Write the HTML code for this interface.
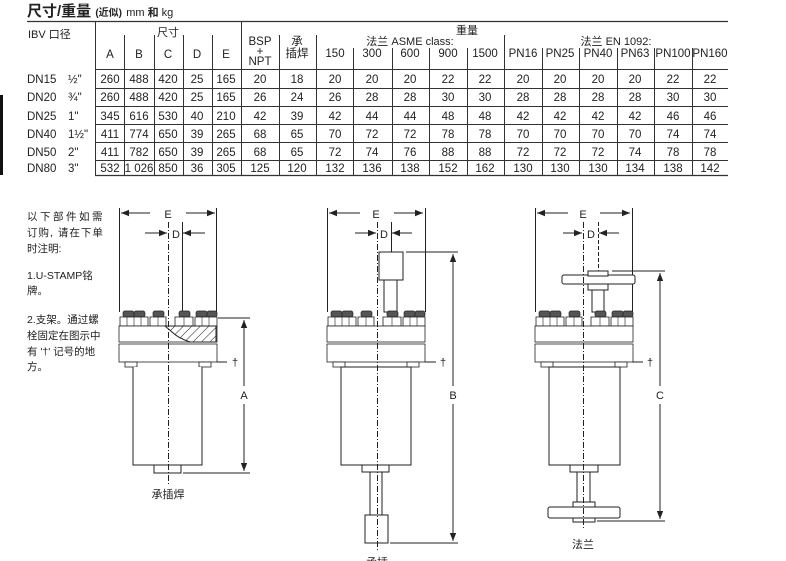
<!DOCTYPE html>
<html><head><meta charset="utf-8"><style>
html,body{margin:0;padding:0;background:#fff;}
svg{display:block;}
text{font-family:"Liberation Sans","Noto Sans CJK SC",sans-serif;fill:#222;}
.t{font-size:11px;text-anchor:middle;}
.n{font-size:11px;}
.d{font-size:11.5px;text-anchor:middle;}
</style></head><body>
<svg width="786" height="561" viewBox="0 0 786 561" xmlns="http://www.w3.org/2000/svg">
<text x="27" y="16" style="font-size:15px;font-weight:bold">尺寸/重量 <tspan style="font-size:10px">(近似)</tspan> <tspan style="font-size:11px;font-weight:normal">mm </tspan><tspan style="font-size:11px">和</tspan><tspan style="font-size:11px;font-weight:normal"> kg</tspan></text>
<rect x="0" y="95" width="3" height="80" fill="#111"/>
<g stroke="#333" stroke-width="1" fill="none">
<line x1="27" y1="21.5" x2="728" y2="21.5" stroke-width="1.2"/>
<line x1="95" y1="69.5" x2="728" y2="69.5"/>
<line x1="95" y1="88.5" x2="728" y2="88.5"/>
<line x1="95" y1="106.5" x2="728" y2="106.5"/>
<line x1="95" y1="124.5" x2="728" y2="124.5"/>
<line x1="95" y1="142.5" x2="728" y2="142.5"/>
<line x1="95" y1="160.5" x2="728" y2="160.5"/>
<line x1="95" y1="175.5" x2="728" y2="175.5" stroke-width="1.2"/>
<line x1="95.5" y1="21" x2="95.5" y2="175"/>
<line x1="241.5" y1="21" x2="241.5" y2="175"/>
<line x1="124.5" y1="35" x2="124.5" y2="175"/>
<line x1="154.5" y1="35" x2="154.5" y2="175"/>
<line x1="183.5" y1="35" x2="183.5" y2="175"/>
<line x1="212.5" y1="35" x2="212.5" y2="175"/>
<line x1="279.5" y1="35" x2="279.5" y2="175"/>
<line x1="316.5" y1="35" x2="316.5" y2="175"/>
<line x1="504.5" y1="35" x2="504.5" y2="175"/>
<line x1="353.5" y1="48" x2="353.5" y2="175"/>
<line x1="392.5" y1="48" x2="392.5" y2="175"/>
<line x1="429.5" y1="48" x2="429.5" y2="175"/>
<line x1="467.5" y1="48" x2="467.5" y2="175"/>
<line x1="542.5" y1="48" x2="542.5" y2="175"/>
<line x1="579.5" y1="48" x2="579.5" y2="175"/>
<line x1="617.5" y1="48" x2="617.5" y2="175"/>
<line x1="654.5" y1="48" x2="654.5" y2="175"/>
<line x1="692.5" y1="48" x2="692.5" y2="175"/>
</g>
<text x="28" y="38" class="n">IBV 口径</text>
<text x="168" y="36" class="t">尺寸</text>
<text x="467" y="34" class="t">重量</text>
<text x="410" y="45" class="t">法兰 ASME class:</text>
<text x="616" y="45" class="t">法兰 EN 1092:</text>
<g>
<text x="110" y="58" class="d">A</text><text x="139" y="58" class="d">B</text><text x="168" y="58" class="d">C</text><text x="197" y="58" class="d">D</text><text x="226" y="58" class="d">E</text>
<text x="260" y="45" class="d">BSP</text><text x="260" y="55" class="d">+</text><text x="260" y="65" class="d">NPT</text>
<text x="297" y="45" class="d">承</text><text x="297" y="57" class="d">插焊</text>
<text x="335" y="57" class="d">150</text><text x="372" y="57" class="d">300</text><text x="410" y="57" class="d">600</text><text x="448" y="57" class="d">900</text><text x="485" y="57" class="d">1500</text>
<text x="523" y="57" class="d">PN16</text><text x="560" y="57" class="d">PN25</text><text x="598" y="57" class="d">PN40</text><text x="635" y="57" class="d">PN63</text><text x="673" y="57" class="d">PN100</text><text x="710" y="57" class="d">PN160</text>
</g>
<g style="font-size:11.5px">
<text x="27" y="83">DN15</text><text x="68" y="83">½"</text>
<text x="27" y="101">DN20</text><text x="68" y="101">¾"</text>
<text x="27" y="120">DN25</text><text x="68" y="120">1"</text>
<text x="27" y="138">DN40</text><text x="68" y="138">1½"</text>
<text x="27" y="156">DN50</text><text x="68" y="156">2"</text>
<text x="27" y="172">DN80</text><text x="68" y="172">3"</text>
</g>
<g>
<text class="d" y="83"><tspan x="110">260</tspan><tspan x="139">488</tspan><tspan x="168">420</tspan><tspan x="197">25</tspan><tspan x="226">165</tspan><tspan x="260">20</tspan><tspan x="297">18</tspan><tspan x="335">20</tspan><tspan x="372">20</tspan><tspan x="410">20</tspan><tspan x="448">22</tspan><tspan x="485">22</tspan><tspan x="523">20</tspan><tspan x="560">20</tspan><tspan x="598">20</tspan><tspan x="635">20</tspan><tspan x="673">22</tspan><tspan x="710">22</tspan></text>
<text class="d" y="101"><tspan x="110">260</tspan><tspan x="139">488</tspan><tspan x="168">420</tspan><tspan x="197">25</tspan><tspan x="226">165</tspan><tspan x="260">26</tspan><tspan x="297">24</tspan><tspan x="335">26</tspan><tspan x="372">28</tspan><tspan x="410">28</tspan><tspan x="448">30</tspan><tspan x="485">30</tspan><tspan x="523">28</tspan><tspan x="560">28</tspan><tspan x="598">28</tspan><tspan x="635">28</tspan><tspan x="673">30</tspan><tspan x="710">30</tspan></text>
<text class="d" y="120"><tspan x="110">345</tspan><tspan x="139">616</tspan><tspan x="168">530</tspan><tspan x="197">40</tspan><tspan x="226">210</tspan><tspan x="260">42</tspan><tspan x="297">39</tspan><tspan x="335">42</tspan><tspan x="372">44</tspan><tspan x="410">44</tspan><tspan x="448">48</tspan><tspan x="485">48</tspan><tspan x="523">42</tspan><tspan x="560">42</tspan><tspan x="598">42</tspan><tspan x="635">42</tspan><tspan x="673">46</tspan><tspan x="710">46</tspan></text>
<text class="d" y="138"><tspan x="110">411</tspan><tspan x="139">774</tspan><tspan x="168">650</tspan><tspan x="197">39</tspan><tspan x="226">265</tspan><tspan x="260">68</tspan><tspan x="297">65</tspan><tspan x="335">70</tspan><tspan x="372">72</tspan><tspan x="410">72</tspan><tspan x="448">78</tspan><tspan x="485">78</tspan><tspan x="523">70</tspan><tspan x="560">70</tspan><tspan x="598">70</tspan><tspan x="635">70</tspan><tspan x="673">74</tspan><tspan x="710">74</tspan></text>
<text class="d" y="156"><tspan x="110">411</tspan><tspan x="139">782</tspan><tspan x="168">650</tspan><tspan x="197">39</tspan><tspan x="226">265</tspan><tspan x="260">68</tspan><tspan x="297">65</tspan><tspan x="335">72</tspan><tspan x="372">74</tspan><tspan x="410">76</tspan><tspan x="448">88</tspan><tspan x="485">88</tspan><tspan x="523">72</tspan><tspan x="560">72</tspan><tspan x="598">72</tspan><tspan x="635">74</tspan><tspan x="673">78</tspan><tspan x="710">78</tspan></text>
<text class="d" y="172"><tspan x="110">532</tspan><tspan x="139">1 026</tspan><tspan x="168">850</tspan><tspan x="197">36</tspan><tspan x="226">305</tspan><tspan x="260">125</tspan><tspan x="297">120</tspan><tspan x="335">132</tspan><tspan x="372">136</tspan><tspan x="410">138</tspan><tspan x="448">152</tspan><tspan x="485">162</tspan><tspan x="523">130</tspan><tspan x="560">130</tspan><tspan x="598">130</tspan><tspan x="635">134</tspan><tspan x="673">138</tspan><tspan x="710">142</tspan></text>
</g>
<g style="font-size:10.5px">
<text x="27" y="220" letter-spacing="2.5">以下部件如需</text>
<text x="27" y="236" letter-spacing="1">订购, 请在下单</text>
<text x="27" y="252">时注明:</text>
<text x="27" y="279">1.U-STAMP铭</text>
<text x="27" y="294">牌。</text>
<text x="27" y="323">2.支架。通过螺</text>
<text x="27" y="339">栓固定在图示中</text>
<text x="27" y="355">有 '†' 记号的地</text>
<text x="27" y="370">方。</text>
</g>
<defs>
<marker id="ar" viewBox="0 0 10 10" refX="10" refY="5" markerWidth="8" markerHeight="8" orient="auto-start-reverse"><path d="M0,1 L10,5 L0,9 z" fill="#222"/></marker>
<pattern id="hatch" width="6" height="6" patternUnits="userSpaceOnUse" patternTransform="rotate(45)"><line x1="0" y1="0" x2="0" y2="6" stroke="#222" stroke-width="1"/></pattern>
<g id="fl">
 <g fill="#555" stroke="#222" stroke-width="0.7">
  <rect x="4" y="-1" width="11" height="6" rx="2"/><rect x="15" y="-1" width="11" height="6" rx="2"/>
  <rect x="34" y="-1" width="11" height="6" rx="2"/><rect x="60" y="-1" width="11" height="6" rx="2"/>
  <rect x="77" y="-1" width="11" height="6" rx="2"/><rect x="88" y="-1" width="10" height="6" rx="2"/>
 </g>
 <g fill="#fff" stroke="#222" stroke-width="0.8">
  <rect x="1" y="5" width="28" height="9"/><rect x="31" y="5" width="16" height="9"/><rect x="56" y="5" width="18" height="9"/><rect x="76" y="5" width="22" height="9"/>
  <rect x="0" y="14" width="98" height="16"/>
  <rect x="0" y="32" width="98" height="18"/>
  <rect x="6" y="50" width="12" height="5"/><rect x="80" y="50" width="12" height="5"/>
 </g>
 <g stroke="#222" stroke-width="0.6"><line x1="8" y1="5" x2="8" y2="14"/><line x1="15" y1="5" x2="15" y2="14"/><line x1="22" y1="5" x2="22" y2="14"/><line x1="39" y1="5" x2="39" y2="14"/><line x1="65" y1="5" x2="65" y2="14"/><line x1="83" y1="5" x2="83" y2="14"/><line x1="90" y1="5" x2="90" y2="14"/></g>
</g>
</defs>
<g fill="none" stroke="#222" stroke-width="1">
<line x1="119.5" y1="208" x2="119.5" y2="312"/><line x1="216.5" y1="208" x2="216.5" y2="312"/>
<line x1="121" y1="213" x2="150" y2="213" marker-start="url(#ar)"/><line x1="186" y1="213" x2="215" y2="213" marker-end="url(#ar)"/>
<line x1="145" y1="233" x2="167" y2="233" marker-end="url(#ar)"/><line x1="205" y1="233" x2="183" y2="233" marker-end="url(#ar)"/>
<line x1="182.5" y1="222" x2="182.5" y2="312"/>
<use href="#fl" x="119" y="312"/>
<path d="M165,326 L216,326 L216,342 L190,342 Q178,338 172,332 Z" fill="url(#hatch)" stroke="#222"/>
<path d="M133,367 L133,465 L202,465 L202,367" fill="#fff"/>
<rect x="154" y="465" width="27" height="8" fill="#fff"/>
<line x1="218" y1="318" x2="250" y2="318"/><line x1="183" y1="473" x2="250" y2="473"/>
<line x1="244" y1="320" x2="244" y2="386" marker-start="url(#ar)"/><line x1="244" y1="404" x2="244" y2="471" marker-end="url(#ar)"/>
<line x1="217" y1="362" x2="227" y2="362"/>
<line x1="168.5" y1="222" x2="168.5" y2="485" stroke-dasharray="6,2,1,2"/>
<line x1="327.5" y1="208" x2="327.5" y2="312"/><line x1="425.5" y1="208" x2="425.5" y2="312"/>
<line x1="329" y1="213" x2="360" y2="213" marker-start="url(#ar)"/><line x1="394" y1="213" x2="423" y2="213" marker-end="url(#ar)"/>
<line x1="355" y1="233" x2="376" y2="233" marker-end="url(#ar)"/><line x1="412" y1="233" x2="392" y2="233" marker-end="url(#ar)"/>
<line x1="391.5" y1="222" x2="391.5" y2="312"/>
<rect x="384" y="280" width="13" height="32" fill="#fff"/>
<rect x="379" y="252" width="24" height="28" fill="#fff"/>
<use href="#fl" x="327" y="312"/>
<rect x="341" y="367" width="70" height="98" fill="#fff"/>
<rect x="362" y="465" width="27" height="7" fill="#fff"/>
<rect x="370" y="472" width="12" height="43" fill="#fff"/>
<rect x="365" y="515" width="23" height="28" fill="#fff"/>
<line x1="406" y1="252" x2="458" y2="252"/><line x1="390" y1="543" x2="458" y2="543"/>
<line x1="453" y1="254" x2="453" y2="386" marker-start="url(#ar)"/><line x1="453" y1="404" x2="453" y2="541" marker-end="url(#ar)"/>
<line x1="425" y1="362" x2="436" y2="362"/>
<line x1="377.5" y1="222" x2="377.5" y2="552" stroke-dasharray="6,2,1,2"/>
<line x1="535.5" y1="208" x2="535.5" y2="312"/><line x1="632.5" y1="208" x2="632.5" y2="312"/>
<line x1="537" y1="213" x2="568" y2="213" marker-start="url(#ar)"/><line x1="600" y1="213" x2="630" y2="213" marker-end="url(#ar)"/>
<line x1="563" y1="233" x2="582" y2="233" marker-end="url(#ar)"/><line x1="619" y1="233" x2="599" y2="233" marker-end="url(#ar)"/>
<line x1="598.5" y1="222" x2="598.5" y2="312" stroke-dasharray="4,2"/>
<rect x="592" y="288" width="12" height="24" fill="#fff"/>
<rect x="588" y="282" width="20" height="8" fill="#fff"/>
<rect x="562" y="275" width="73" height="9" rx="2" fill="#fff"/>
<rect x="588" y="271" width="20" height="5" fill="#fff"/>
<use href="#fl" x="535" y="312"/>
<rect x="549" y="367" width="71" height="98" fill="#fff"/>
<rect x="570" y="465" width="28" height="7" fill="#fff"/>
<rect x="577" y="472" width="13" height="30" fill="#fff"/>
<rect x="573" y="502" width="22" height="6" fill="#fff"/>
<rect x="548" y="507" width="72" height="11" rx="2" fill="#fff"/>
<rect x="573" y="518" width="22" height="4" fill="#fff"/>
<line x1="612" y1="271" x2="665" y2="271"/><line x1="597" y1="521" x2="665" y2="521"/>
<line x1="660" y1="273" x2="660" y2="386" marker-start="url(#ar)"/><line x1="660" y1="404" x2="660" y2="519" marker-end="url(#ar)"/>
<line x1="632" y1="362" x2="643" y2="362"/>
<line x1="583.5" y1="222" x2="583.5" y2="530" stroke-dasharray="6,2,1,2"/>
</g>
<g>
<text x="168" y="218" class="t">E</text>
<text x="176" y="238" class="t">D</text>
<text x="244" y="399" class="t">A</text>
<text x="235" y="366" class="t">†</text>
<text x="168" y="498" class="t">承插焊</text>
<text x="376" y="218" class="t">E</text>
<text x="384" y="238" class="t">D</text>
<text x="453" y="399" class="t">B</text>
<text x="443" y="366" class="t">†</text>
<text x="377" y="566" class="t">承插</text>
<text x="583" y="218" class="t">E</text>
<text x="591" y="238" class="t">D</text>
<text x="660" y="399" class="t">C</text>
<text x="650" y="366" class="t">†</text>
<text x="583" y="548" class="t">法兰</text>
</g>
</svg>
</body></html>
